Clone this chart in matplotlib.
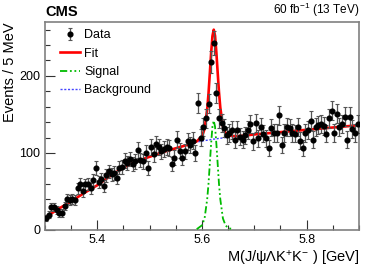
import numpy as np
import matplotlib
matplotlib.use("Agg")
import matplotlib.pyplot as plt

plt.rcParams['font.family'] = ['Liberation Sans', 'DejaVu Sans']
plt.rcParams['mathtext.fontset'] = 'custom'
plt.rcParams['mathtext.rm'] = 'Liberation Sans'
plt.rcParams['mathtext.it'] = 'Liberation Sans:italic'
plt.rcParams['mathtext.bf'] = 'Liberation Sans:bold'

# ---- data: 5 MeV bins from 5.30 to 5.90 GeV ----
bin_lo = 5.30
bin_hi = 5.90
counts = [16, 20, 30, 30, 26, 22, 22, 31, 40, 39,
          40, 39, 54, 60, 50, 59, 60, 54, 65, 80,
          62, 66, 57, 71, 76, 72, 74, 68, 81, 82,
          90, 87, 92, 86, 89, 104, 91, 89, 100, 80,
          108, 98, 111, 108, 102, 105, 108, 106, 86, 94,
          117, 103, 94, 102, 115, 110, 116, 100, 165, 120,
          134, 145, 164, 218, 243, 178, 145, 139, 132, 123,
          126, 130, 117, 130, 121, 117, 123, 130, 137, 115,
          139, 119, 134, 125, 119, 106, 133, 126, 126, 149,
          110, 126, 134, 133, 126, 125, 134, 116, 106, 126,
          130, 142, 117, 134, 136, 138, 135, 125, 145, 155,
          126, 151, 134, 138, 147, 117, 147, 131, 126, 138]

# ---- fit curves ----
curve_mass = [5.300, 5.325, 5.350, 5.375, 5.400, 5.425, 5.450, 5.475, 5.500, 5.525,
              5.550, 5.575, 5.590, 5.600, 5.605, 5.610, 5.6125, 5.615, 5.6175, 5.620,
              5.6225, 5.625, 5.6275, 5.630, 5.6325, 5.635, 5.640, 5.645, 5.650, 5.660,
              5.675, 5.700, 5.725, 5.750, 5.775, 5.800, 5.825, 5.850, 5.875, 5.900]
background = [16, 27, 37, 48, 58, 70, 81, 89, 95, 101,
              106, 111, 114, 115.5, 116, 116.5, 117, 117, 117.5, 117.5,
              118, 118, 118.5, 118.5, 119, 119, 119.5, 120, 120.5, 121,
              122, 124, 125.5, 127, 128.5, 130, 131.5, 133, 134.5, 136]
signal = [0, 0, 0, 0, 0, 0, 0, 0, 0, 0,
          0, 0, 1, 6, 15, 40, 60, 86, 112, 134,
          142, 134, 112, 86, 60, 40, 15, 6, 2.5, 0.8,
          0, 0, 0, 0, 0, 0, 0, 0, 0, 0]

n_bins = len(counts)
edges = np.linspace(bin_lo, bin_hi, n_bins + 1)
centers = 0.5 * (edges[:-1] + edges[1:])
y = np.array(counts, dtype=float)
yerr = np.sqrt(y)

cm = np.array(curve_mass)
bk = np.array(background)
sg = np.array(signal)
fit = bk + sg

fig = plt.figure(figsize=(3.74, 2.68), dpi=100)
ax = fig.add_axes([0.120, 0.142, 0.840, 0.776])

sig_mask = (cm >= 5.585) & (cm <= 5.665)
ax.plot(cm[sig_mask], sg[sig_mask], color='#00bb00', lw=1.3, ls=(0, (4, 1.5, 1, 1.5, 1, 1.5)),
        label='Signal', zorder=3)
ax.plot(cm, bk, color='#4444ff', lw=1.0, ls=(0, (1.5, 1.2)), label='Background', zorder=3)
ax.plot(cm, fit, color='#ff0000', lw=1.9, label='Fit', zorder=4)
ax.errorbar(centers, y, yerr=yerr, fmt='o', color='black', ms=3.4, ecolor='#555555',
            elinewidth=0.9, capsize=1.5, capthick=0.8, label='Data', zorder=5)

ax.set_xlim(bin_lo, bin_hi)
ax.set_ylim(0, 270)
ax.set_xticks([5.4, 5.6, 5.8])
ax.set_xticks(np.arange(5.30, 5.90, 0.05), minor=True)
ax.set_yticks([0, 100, 200])
ax.set_yticks(np.arange(0, 270, 20), minor=True)
ax.tick_params(axis='both', which='major', direction='in', length=7, width=0.8,
               labelsize=9, top=False, right=False, color='#333333')
ax.tick_params(axis='both', which='minor', direction='in', length=3.5, width=0.8,
               top=False, right=False, color='#333333')
ax.tick_params(axis='x', pad=3)
for s in ax.spines.values():
    s.set_color('#808080')
    s.set_linewidth(1.2)

ax.set_ylabel('Events / 5 MeV', fontsize=10.5, labelpad=4)
ax.yaxis.set_label_coords(-0.09, 1.0)
ax.yaxis.label.set_ha('right')
ax.set_xlabel(r'M(J/ψΛK$^{+}$K$^{-}$ ) [GeV]', fontsize=10.5, ha='right')
ax.xaxis.set_label_coords(1.0, -0.09)

fig.text(0.120, 0.928, 'CMS', fontsize=10.5, fontweight='bold', ha='left', va='bottom')
fig.text(0.960, 0.928, r'60 fb$^{-1}$ (13 TeV)', fontsize=8.5, ha='right', va='bottom')

handles, labels = ax.get_legend_handles_labels()
order = [labels.index(l) for l in ['Data', 'Fit', 'Signal', 'Background']]
ax.legend([handles[i] for i in order], [labels[i] for i in order],
          loc='upper left', bbox_to_anchor=(0.025, 1.0), frameon=False, fontsize=9,
          handlelength=1.6, handletextpad=0.3, labelspacing=0.5, borderaxespad=0.2)

fig.savefig('out.png', dpi=100)
